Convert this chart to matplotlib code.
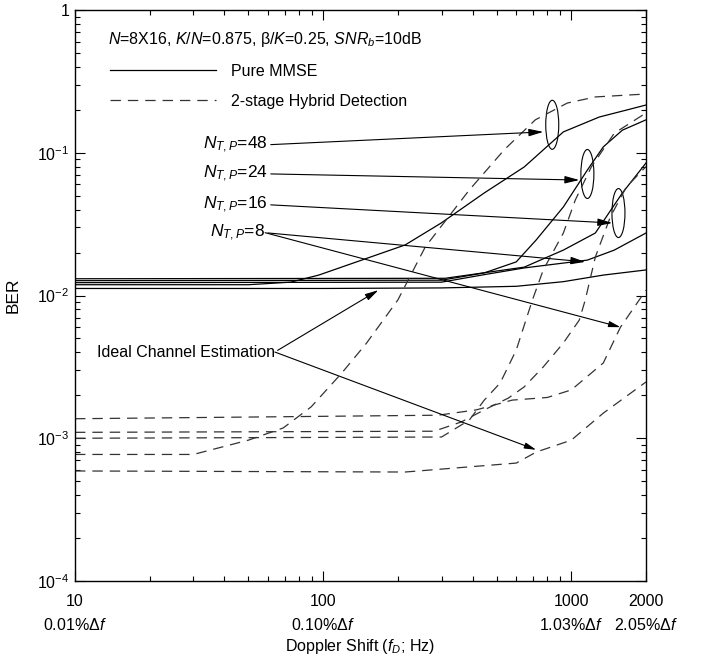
import numpy as np
import matplotlib
matplotlib.use("Agg")
import matplotlib.pyplot as plt
from matplotlib.patches import Ellipse
from matplotlib.transforms import ScaledTranslation
from matplotlib.lines import Line2D

plt.rcParams['font.family'] = ['Liberation Sans', 'DejaVu Sans']
plt.rcParams['mathtext.fontset'] = 'custom'
plt.rcParams['mathtext.rm'] = 'Liberation Sans'
plt.rcParams['mathtext.it'] = 'Liberation Sans:italic'
plt.rcParams['mathtext.bf'] = 'Liberation Sans:bold'
plt.rcParams['lines.scale_dashes'] = False

# Pure MMSE (solid)
pure_ideal_f = [10, 100, 300, 600, 929, 1346, 2000]
pure_ideal_ber = [0.0112, 0.0112, 0.0113, 0.0116, 0.0125, 0.0139, 0.0151]
pure_8_f = [10, 300, 446, 646, 1161, 1490, 2000]
pure_8_ber = [0.0123, 0.0124, 0.0140, 0.0156, 0.0177, 0.0208, 0.0274]
pure_16_f = [10, 310, 646, 929, 1250, 1607, 2000]
pure_16_ber = [0.0131, 0.0132, 0.0158, 0.0208, 0.0274, 0.0523, 0.0848]
pure_24_f = [10, 300, 446, 600, 722, 929, 1161, 1346, 1607, 2000]
pure_24_ber = [0.0127, 0.0128, 0.0144, 0.0172, 0.0245, 0.0417, 0.0757, 0.110, 0.144, 0.170]
pure_48_f = [10, 50, 74, 96, 214, 299, 446, 646, 929, 1297, 1667, 2000]
pure_48_ber = [0.0119, 0.0119, 0.0124, 0.0139, 0.0226, 0.0322, 0.0523, 0.0795, 0.140, 0.178, 0.199, 0.216]

# 2-stage hybrid detection (dashed)
hyb_ideal_f = [10, 214, 600, 722, 1000, 1346, 2000]
hyb_ideal_ber = [5.9e-4, 5.8e-4, 6.7e-4, 8.0e-4, 9.7e-4, 1.5e-3, 2.48e-3]
hyb_8_f = [10, 290, 414, 578, 800, 1000, 1346, 1578, 2000]
hyb_8_ber = [1.37e-3, 1.45e-3, 1.58e-3, 1.85e-3, 1.93e-3, 2.18e-3, 3.37e-3, 6.0e-3, 1.09e-2]
hyb_16_f = [10, 280, 360, 446, 557, 646, 771, 929, 1077, 1138, 1250, 1436, 1667, 2000]
hyb_16_ber = [1.10e-3, 1.12e-3, 1.30e-3, 1.58e-3, 1.91e-3, 2.29e-3, 3.16e-3, 4.65e-3, 6.73e-3, 9.3e-3, 0.0186, 0.0355, 0.0576, 0.080]
hyb_24_f = [10, 300, 388, 446, 517, 600, 697, 771, 929, 1038, 1204, 1490, 2000]
hyb_24_ber = [1.0e-3, 1.02e-3, 1.34e-3, 1.85e-3, 2.44e-3, 4.15e-3, 9.3e-3, 0.0151, 0.0274, 0.0467, 0.0795, 0.137, 0.19]
hyb_48_f = [10, 30, 50, 69, 89.5, 119, 149, 200, 258, 388, 537, 716, 964, 1250, 2000]
hyb_48_ber = [7.7e-4, 7.7e-4, 9.7e-4, 1.18e-3, 1.66e-3, 2.87e-3, 4.6e-3, 9.3e-3, 0.0219, 0.0548, 0.105, 0.170, 0.223, 0.246, 0.258]

xtick_vals = [10, 100, 1000, 2000]
xtick_labels = ["10\n0.01%Δ$f$", "100\n0.10%Δ$f$", "1000\n1.03%Δ$f$", "2000\n2.05%Δ$f$"]
ytick_vals = [1e-4, 1e-3, 1e-2, 1e-1, 1]
ytick_labels = ["$10^{-4}$", "$10^{-3}$", "$10^{-2}$", "$10^{-1}$", "1"]

FS = 11.5
dash = (0, (7.5, 5))

fig = plt.figure(figsize=(7.09, 6.57), dpi=100)
ax = fig.add_axes([75/709, 1-581/657, 571/709, 571/657])

for f, b in [(pure_ideal_f, pure_ideal_ber), (pure_8_f, pure_8_ber), (pure_16_f, pure_16_ber),
             (pure_24_f, pure_24_ber), (pure_48_f, pure_48_ber)]:
    ax.plot(f, b, color='black', lw=0.9)
for f, b in [(hyb_ideal_f, hyb_ideal_ber), (hyb_8_f, hyb_8_ber), (hyb_16_f, hyb_16_ber),
             (hyb_24_f, hyb_24_ber), (hyb_48_f, hyb_48_ber)]:
    ax.plot(f, b, color='#333333', lw=0.9, linestyle=dash)

ax.set_xscale('log')
ax.set_yscale('log')
ax.set_xlim(10, 2000)
ax.set_ylim(1e-4, 1)
ax.set_xticks(xtick_vals)
ax.set_xticklabels(xtick_labels, fontsize=FS, linespacing=1.65)
ax.set_yticks(ytick_vals)
ax.set_yticklabels(ytick_labels, fontsize=FS)
ax.tick_params(which='both', direction='in', top=True, right=True, width=0.8)
ax.tick_params(which='major', length=7)
ax.tick_params(which='minor', length=3.5)
ax.tick_params(axis='x', which='major', pad=9)
ax.tick_params(axis='y', which='major', pad=4)
for s in ax.spines.values():
    s.set_linewidth(1.0)

ax.set_xlabel("Doppler Shift ($f_D$; Hz)", fontsize=FS, labelpad=3)
ax.set_ylabel("BER", fontsize=FS + 1, labelpad=12)

ax.text(0.058, 0.948, "$N$=8X16, $K$/$N$=0.875, β/$K$=0.25, $SNR_b$=10dB",
        transform=ax.transAxes, fontsize=FS, va='center', ha='left')

handles = [Line2D([], [], color='black', lw=0.9),
           Line2D([], [], color='#333333', lw=0.9, linestyle=dash)]
ax.legend(handles, ["Pure MMSE", "2-stage Hybrid Detection"], loc='upper left',
          bbox_to_anchor=(0.062, 0.906), frameon=False, fontsize=FS,
          handlelength=6.6, handletextpad=0.95, labelspacing=0.95,
          borderpad=0, borderaxespad=0)

arrow = dict(arrowstyle='-|>,head_length=0.7,head_width=0.18', color='black',
             lw=0.8, shrinkA=0, shrinkB=0, relpos=(1, 0.5))
arrow2 = dict(arrowstyle='-|>,head_length=0.7,head_width=0.18', color='black',
              lw=0.8, shrinkA=0, shrinkB=0)

NFS = 12.5
ax.annotate("$N_{T,P}$=48", xy=(771, 0.140), xytext=(0.338, 0.764),
            textcoords='axes fraction', ha='right', va='center', fontsize=NFS, arrowprops=arrow)
ax.annotate("$N_{T,P}$=24", xy=(1077, 0.0644), xytext=(0.338, 0.713),
            textcoords='axes fraction', ha='right', va='center', fontsize=NFS, arrowprops=arrow)
ax.annotate("$N_{T,P}$=16", xy=(1462, 0.0322), xytext=(0.338, 0.659),
            textcoords='axes fraction', ha='right', va='center', fontsize=NFS, arrowprops=arrow)
ax.annotate("$N_{T,P}$=8", xy=(1138, 0.0172), xytext=(0.333, 0.610),
            textcoords='axes fraction', ha='right', va='center', fontsize=NFS, arrowprops=arrow)
ax.annotate("", xy=(1578, 6.0e-3), xytext=(0.333, 0.610),
            textcoords='axes fraction', arrowprops=arrow2)
ax.annotate("Ideal Channel Estimation", xy=(167, 0.0109), xytext=(0.350, 0.401),
            textcoords='axes fraction', ha='right', va='center', fontsize=FS, arrowprops=arrow)
ax.annotate("", xy=(722, 8.3e-4), xytext=(0.350, 0.401),
            textcoords='axes fraction', arrowprops=arrow2)

# ellipses grouping the curves of each N_T,P
ellipse_f = [838, 1161, 1549]
ellipse_ber = [0.157, 0.0710, 0.0378]
for ef, eb in zip(ellipse_f, ellipse_ber):
    tr = fig.dpi_scale_trans + ScaledTranslation(ef, eb, ax.transData)
    ax.add_patch(Ellipse((0, 0), 0.13, 0.49, transform=tr, fill=False,
                         edgecolor='black', lw=0.8))

fig.savefig("out.png", dpi=100)
